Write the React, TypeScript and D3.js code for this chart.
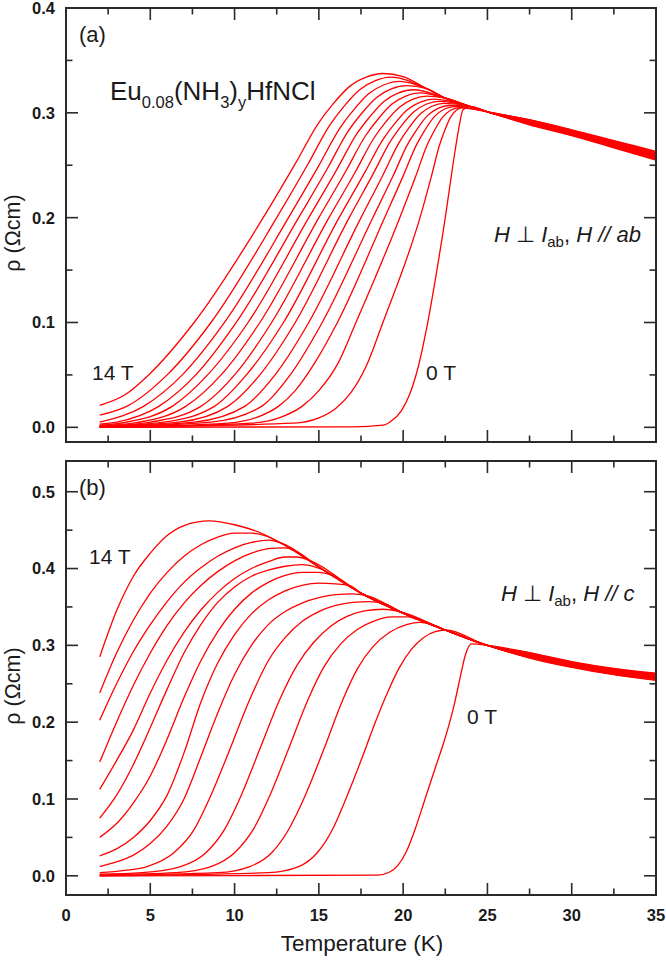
import React from 'react';
import * as d3 from 'd3';

// ---------- data ----------
const FIELDS = [0, 1, 2, 3, 4, 5, 6, 7, 8, 9, 10, 11, 12, 13, 14]; // Tesla
const X_TICKS = [0, 5, 10, 15, 20, 25, 30, 35];
const Y_TICKS_A = [0, 0.1, 0.2, 0.3, 0.4];
const Y_TICKS_B = [0, 0.1, 0.2, 0.3, 0.4, 0.5];
const TAIL_T = [27.5, 30, 32.5, 35];

// Panel (a): H // ab — low-temperature part of each curve [T (K), rho (Ohm cm)], index = field (T)
const A_RISE: number[][][] = [
  [[2, 0], [17, 0.0005], [18.8, 0.002], [19.3, 0.006], [19.9, 0.016], [20.4, 0.032], [20.9, 0.058], [21.4, 0.095], [21.95, 0.145], [22.5, 0.2], [22.95, 0.25], [23.3, 0.285], [23.55, 0.303], [24.0, 0.306]],
  [[2, 0], [13.5, 0.004], [15.0, 0.009], [16.0, 0.018], [16.9, 0.033], [17.8, 0.058], [18.8, 0.1], [21.0, 0.2], [21.68, 0.2397], [22.15, 0.2688], [22.45, 0.2824], [22.8, 0.2954], [23.15, 0.3024], [23.5, 0.305]],
  [[2, 0], [11.0, 0.004], [12.8, 0.01], [14.0, 0.02], [15.0, 0.035], [16.1, 0.06], [17.2, 0.1], [19.8, 0.2], [20.75, 0.2397], [21.41, 0.2688], [21.83, 0.2824], [22.32, 0.2954], [22.81, 0.3024], [23.3, 0.305]],
  [[2, 0], [9.6, 0.004], [11.4, 0.01], [12.6, 0.02], [13.6, 0.035], [14.7, 0.06], [16.1, 0.1], [18.9, 0.2], [20.01, 0.2401], [20.79, 0.2694], [21.28, 0.2832], [21.85, 0.2964], [22.43, 0.3034], [23.0, 0.306]],
  [[2, 0.0005], [8.6, 0.005], [11.6, 0.02], [13.3, 0.05], [15.2, 0.1], [18.2, 0.2], [19.42, 0.2404], [20.27, 0.2701], [20.81, 0.284], [21.44, 0.2973], [22.07, 0.3043], [22.7, 0.307]],
  [[2, 0.0005], [7.6, 0.005], [10.6, 0.02], [12.4, 0.05], [14.4, 0.1], [17.5, 0.2], [18.82, 0.2412], [19.75, 0.2714], [20.34, 0.2856], [21.03, 0.2991], [21.71, 0.3063], [22.4, 0.309]],
  [[2, 0.001], [6.7, 0.005], [9.6, 0.02], [11.5, 0.05], [13.6, 0.1], [16.8, 0.2], [18.23, 0.242], [19.24, 0.2727], [19.87, 0.2871], [20.62, 0.3009], [21.36, 0.3082], [22.1, 0.311]],
  [[2, 0.001], [5.8, 0.005], [8.8, 0.02], [10.7, 0.05], [12.9, 0.1], [16.2, 0.2], [17.71, 0.2427], [18.78, 0.274], [19.45, 0.2887], [20.23, 0.3027], [21.02, 0.3102], [21.8, 0.313]],
  [[2, 0.001], [5.0, 0.005], [8.0, 0.02], [10.0, 0.05], [12.2, 0.1], [15.6, 0.2], [17.17, 0.2438], [18.27, 0.276], [18.96, 0.2911], [19.78, 0.3054], [20.59, 0.3131], [21.4, 0.316]],
  [[2, 0.0015], [4.0, 0.004], [7.1, 0.02], [9.2, 0.05], [11.5, 0.1], [15.0, 0.2], [16.62, 0.245], [17.76, 0.2779], [18.48, 0.2934], [19.32, 0.3082], [20.16, 0.316], [21.0, 0.319]],
  [[2, 0.002], [3.6, 0.005], [6.3, 0.02], [8.4, 0.05], [10.8, 0.1], [14.4, 0.2], [16.07, 0.2461], [17.25, 0.2799], [18.0, 0.2958], [18.86, 0.3109], [19.73, 0.319], [20.6, 0.322]],
  [[2, 0.003], [3.0, 0.005], [5.5, 0.02], [7.7, 0.05], [10.1, 0.1], [13.8, 0.2], [15.53, 0.2476], [16.74, 0.2825], [17.51, 0.2989], [18.41, 0.3145], [19.3, 0.3229], [20.2, 0.326]],
  [[2, 0.005], [4.6, 0.02], [6.9, 0.05], [9.4, 0.1], [13.2, 0.2], [14.98, 0.2491], [16.24, 0.2852], [17.03, 0.3021], [17.95, 0.3182], [18.88, 0.3268], [19.8, 0.33]],
  [[2, 0.0117], [3.6, 0.02], [6.0, 0.05], [8.6, 0.1], [12.5, 0.2], [14.34, 0.2507], [15.63, 0.2878], [16.44, 0.3052], [17.4, 0.3218], [18.35, 0.3307], [19.3, 0.334]],
  [[2, 0.021], [3.5, 0.031], [4.9, 0.05], [7.6, 0.1], [11.7, 0.2], [13.62, 0.252], [14.97, 0.29], [15.82, 0.308], [16.81, 0.325], [17.81, 0.334], [18.8, 0.3375]],
];
// common envelope the curves merge into above their maximum
const A_ENV = [[20, 0.3345], [21.4, 0.323], [22.5, 0.314], [24, 0.306], [25, 0.301]];
// normal-state tail at TAIL_T, per field
const A_TAIL = [
  [0.2935, 0.2838, 0.2735, 0.2632],
  [0.2932, 0.2835, 0.2731, 0.2627],
  [0.2928, 0.2831, 0.2726, 0.2621],
  [0.2925, 0.2827, 0.2721, 0.2615],
  [0.2921, 0.2823, 0.2716, 0.2609],
  [0.2918, 0.2819, 0.2711, 0.2603],
  [0.2914, 0.2815, 0.2706, 0.2597],
  [0.2911, 0.2811, 0.2701, 0.2591],
  [0.2907, 0.2807, 0.2696, 0.2585],
  [0.2904, 0.2803, 0.2691, 0.2579],
  [0.29, 0.2799, 0.2686, 0.2573],
  [0.2897, 0.2795, 0.2681, 0.2567],
  [0.2893, 0.2791, 0.2676, 0.2561],
  [0.289, 0.2787, 0.2671, 0.2555],
  [0.2886, 0.2783, 0.2666, 0.2549],
];

// Panel (b): H // c
const B_RISE: number[][][] = [
  [[2, 0], [18.5, 0.001], [19.2, 0.005], [19.7, 0.014], [20.2, 0.032], [20.7, 0.06], [21.3, 0.1], [21.9, 0.14], [22.5, 0.18], [23.0, 0.22], [23.4, 0.26], [23.7, 0.288], [24.05, 0.302]],
  [[2, 0], [12, 0.004], [13.8, 0.012], [14.9, 0.03], [15.8, 0.06], [16.6, 0.1], [17.5, 0.15], [18.35, 0.2], [19.1, 0.24], [19.8, 0.272], [20.5, 0.295], [21.2, 0.31], [21.9, 0.318], [22.5, 0.32]],
  [[2, 0.0005], [9, 0.004], [10.9, 0.012], [12.2, 0.03], [13.2, 0.06], [14.1, 0.1], [15.3, 0.165], [16.41, 0.2286], [17.3, 0.27], [18.2, 0.298], [19.2, 0.317], [20.2, 0.327], [21, 0.33], [21.6, 0.328]],
  [[2, 0.001], [6.5, 0.004], [8.6, 0.012], [10, 0.03], [11.1, 0.06], [12, 0.1], [13.2, 0.165], [14.34, 0.2286], [15.3, 0.272], [16.3, 0.302], [17.3, 0.321], [18.3, 0.332], [19.3, 0.337], [20.3, 0.337], [20.8, 0.334]],
  [[2, 0.002], [4.5, 0.004], [6.8, 0.012], [8.3, 0.03], [9.4, 0.06], [10.3, 0.1], [11.5, 0.165], [12.66, 0.2286], [13.7, 0.274], [14.7, 0.304], [15.7, 0.325], [16.7, 0.338], [17.7, 0.345], [18.8, 0.347], [19.8, 0.344]],
  [[2, 0.004], [3.5, 0.007], [4.8, 0.012], [6.4, 0.03], [7.6, 0.06], [8.5, 0.1], [9.6, 0.158], [10.88, 0.2286], [12, 0.28], [13, 0.31], [14, 0.331], [15, 0.344], [16, 0.352], [17, 0.356], [18, 0.357], [18.8, 0.355]],
  [[2, 0.012], [3, 0.018], [4, 0.027], [5, 0.042], [6, 0.065], [7, 0.1], [8, 0.155], [9, 0.212], [10, 0.262], [11, 0.3], [12, 0.327], [13, 0.344], [14, 0.355], [15, 0.362], [16, 0.366], [17, 0.367], [17.8, 0.365]],
  [[2, 0.026], [3, 0.035], [4, 0.05], [5, 0.072], [6, 0.105], [7, 0.16], [8, 0.226], [9, 0.277], [10, 0.314], [11, 0.341], [12, 0.359], [13, 0.371], [14, 0.378], [15, 0.381], [16, 0.38], [16.8, 0.378]],
  [[2, 0.05], [3, 0.068], [4, 0.095], [5, 0.13], [6, 0.178], [7, 0.232], [8, 0.28], [9, 0.318], [10, 0.347], [11, 0.368], [12, 0.382], [13, 0.391], [14, 0.395], [15, 0.395], [15.8, 0.391]],
  [[2, 0.075], [3, 0.105], [4, 0.145], [5, 0.193], [6, 0.243], [7, 0.29], [8, 0.327], [9, 0.356], [10, 0.376], [11, 0.39], [12, 0.398], [13, 0.403], [14, 0.405], [14.8, 0.402]],
  [[2, 0.1126], [3, 0.15], [4, 0.19], [5, 0.238], [6, 0.281], [7, 0.317], [8, 0.346], [9, 0.369], [10, 0.387], [11, 0.4], [12, 0.409], [13, 0.415], [13.7, 0.415], [14.4, 0.411]],
  [[2, 0.148], [3, 0.2], [4, 0.248], [5, 0.29], [6, 0.326], [7, 0.355], [8, 0.378], [9, 0.396], [10, 0.41], [11, 0.42], [12, 0.426], [13, 0.427], [13.6, 0.423]],
  [[2, 0.2026], [3, 0.25], [4, 0.292], [5, 0.327], [6, 0.357], [7, 0.382], [8, 0.401], [9, 0.416], [10, 0.427], [11, 0.434], [12, 0.437], [12.8, 0.433]],
  [[2, 0.238], [3, 0.29], [4, 0.333], [5, 0.368], [6, 0.395], [7, 0.416], [8, 0.431], [9, 0.441], [10, 0.446], [11, 0.446], [11.8, 0.443]],
  [[2, 0.285], [3, 0.345], [4, 0.39], [5, 0.42], [6, 0.443], [7, 0.456], [8.5, 0.462]],
];
const B_ENV = [[8.5, 0.462], [10, 0.457], [11.7, 0.445], [13, 0.43], [15, 0.402], [17.5, 0.368], [20, 0.342], [22.5, 0.32], [25, 0.3]];
const B_TAIL = [
  [0.2905, 0.2788, 0.27, 0.2638],
  [0.2902, 0.2783, 0.2695, 0.2632],
  [0.2896, 0.2779, 0.2689, 0.2625],
  [0.289, 0.2772, 0.2683, 0.2618],
  [0.2886, 0.2768, 0.2678, 0.2612],
  [0.288, 0.2762, 0.2671, 0.2605],
  [0.2876, 0.2757, 0.2666, 0.2598],
  [0.287, 0.2751, 0.266, 0.2592],
  [0.2866, 0.2746, 0.2654, 0.2585],
  [0.286, 0.274, 0.2648, 0.2578],
  [0.2855, 0.2735, 0.2642, 0.2572],
  [0.285, 0.273, 0.2636, 0.2565],
  [0.2845, 0.2724, 0.263, 0.2558],
  [0.284, 0.2719, 0.2624, 0.2551],
  [0.2835, 0.2713, 0.2618, 0.2544],
];

// ---------- helpers ----------
function buildSeries(rise: number[][], env: number[][], tail: number[], gap: number) {
  const last = rise[rise.length - 1][0];
  return [
    ...rise,
    ...env.filter((p) => p[0] > last + gap),
    ...TAIL_T.map((t, i) => [t, tail[i]]),
  ];
}

const FONT = 'Arial, "Liberation Sans", Helvetica, sans-serif';
const AXIS = '#2a2a2a';
const TXT = '#1a1a1a';
const RED = '#ff0000';

const x = d3.scaleLinear().domain([0, 35]).range([66, 656]);
const yA = d3.scaleLinear().domain([-0.014, 0.4]).range([442, 8]);
const yB = d3.scaleLinear().domain([-0.025, 0.54]).range([895, 461]);

function Frame({ y, yTicks, xLabels }: { y: d3.ScaleLinear<number, number>; yTicks: number[]; xLabels: boolean }) {
  const [x0, x1] = x.range();
  const [yb, yt] = y.range();
  const xMinor = X_TICKS.slice(0, -1).map((t, i) => (t + X_TICKS[i + 1]) / 2);
  const yStep = yTicks[1] - yTicks[0];
  const yMinor = yTicks.map((t) => t + yStep / 2).filter((t) => y(t) > yt + 1);
  const yMajor = yTicks.filter((t) => y(t) >= yt - 0.5);
  const MJ = 12, MN = 6.5;
  return (
    <g>
      {X_TICKS.map((t) => (
        <g key={'xm' + t}>
          <line x1={x(t)} x2={x(t)} y1={yb} y2={yb - MJ} stroke={AXIS} strokeWidth={1.6} />
          <line x1={x(t)} x2={x(t)} y1={yt} y2={yt + MJ} stroke={AXIS} strokeWidth={1.6} />
        </g>
      ))}
      {xMinor.map((t) => (
        <g key={'xn' + t}>
          <line x1={x(t)} x2={x(t)} y1={yb} y2={yb - MN} stroke={AXIS} strokeWidth={1.6} />
          <line x1={x(t)} x2={x(t)} y1={yt} y2={yt + MN} stroke={AXIS} strokeWidth={1.6} />
        </g>
      ))}
      {yMajor.map((t) => (
        <g key={'ym' + t}>
          <line x1={x0} x2={x0 + MJ} y1={y(t)} y2={y(t)} stroke={AXIS} strokeWidth={1.6} />
          <line x1={x1} x2={x1 - MJ} y1={y(t)} y2={y(t)} stroke={AXIS} strokeWidth={1.6} />
          <text x={55} y={y(t)} dy="0.36em" textAnchor="end" fontFamily={FONT} fontWeight="bold" fontSize={16.5} fill={TXT}>
            {t.toFixed(1)}
          </text>
        </g>
      ))}
      {yMinor.map((t) => (
        <g key={'yn' + t}>
          <line x1={x0} x2={x0 + MN} y1={y(t)} y2={y(t)} stroke={AXIS} strokeWidth={1.6} />
          <line x1={x1} x2={x1 - MN} y1={y(t)} y2={y(t)} stroke={AXIS} strokeWidth={1.6} />
        </g>
      ))}
      {xLabels &&
        X_TICKS.map((t) => (
          <text key={'xl' + t} x={x(t)} y={yb + 26} textAnchor="middle" fontFamily={FONT} fontWeight="bold" fontSize={16.5} fill={TXT}>
            {t}
          </text>
        ))}
      <rect x={x0} y={yt} width={x1 - x0} height={yb - yt} fill="none" stroke={AXIS} strokeWidth={2} />
    </g>
  );
}

function Curves({ y, rise, env, tail, gap }: { y: d3.ScaleLinear<number, number>; rise: number[][][]; env: number[][]; tail: number[][]; gap: number }) {
  const line = d3
    .line<number[]>()
    .x((d) => x(d[0]))
    .y((d) => y(d[1]))
    .curve(d3.curveMonotoneX);
  return (
    <g>
      {FIELDS.map((f) => (
        <path key={f} d={line(buildSeries(rise[f], env, tail[f], gap)) || ''} fill="none" stroke={RED} strokeWidth={1.3} />
      ))}
    </g>
  );
}

function FieldLabel({ xp, yp, last }: { xp: number; yp: number; last: string }) {
  return (
    <text x={xp} y={yp} fontFamily={FONT} fontSize={22} fill={TXT}>
      <tspan fontStyle="italic">H</tspan>
      <tspan> ⊥ </tspan>
      <tspan fontStyle="italic">I</tspan>
      <tspan fontSize={15} dy={5}>ab</tspan>
      <tspan dy={-5}>, </tspan>
      <tspan fontStyle="italic">H // {last}</tspan>
    </text>
  );
}

export default function App() {
  return (
    <svg width={666} height={960} style={{ position: 'absolute', left: 0, top: 0, background: '#fff' }}>
      <rect x={0} y={0} width={666} height={960} fill="#fff" />
      {/* panel (a) */}
      <Curves y={yA} rise={A_RISE} env={A_ENV} tail={A_TAIL} gap={0.9} />
      <Frame y={yA} yTicks={Y_TICKS_A} xLabels={false} />
      <text x={79} y={42} fontFamily={FONT} fontSize={22} fill={TXT}>(a)</text>
      <text x={110} y={100} fontFamily={FONT} fontSize={26} fill={TXT}>
        Eu<tspan fontSize={16.5} dy={8}>0.08</tspan>
        <tspan dy={-8}>(NH</tspan>
        <tspan fontSize={16.5} dy={8}>3</tspan>
        <tspan dy={-8}>)</tspan>
        <tspan fontSize={16.5} dy={8}>y</tspan>
        <tspan dy={-8}>HfNCl</tspan>
      </text>
      <FieldLabel xp={494} yp={242} last="ab" />
      <text x={92} y={380} fontFamily={FONT} fontSize={21} fill={TXT}>14 T</text>
      <text x={426} y={380} fontFamily={FONT} fontSize={21} fill={TXT}>0 T</text>
      <text transform="translate(20,233) rotate(-90)" textAnchor="middle" fontFamily={FONT} fontSize={21.5} fill={TXT}>ρ (Ωcm)</text>

      {/* panel (b) */}
      <Curves y={yB} rise={B_RISE} env={B_ENV} tail={B_TAIL} gap={0.6} />
      <Frame y={yB} yTicks={Y_TICKS_B} xLabels={true} />
      <text x={79} y={495} fontFamily={FONT} fontSize={22} fill={TXT}>(b)</text>
      <FieldLabel xp={501} yp={601} last="c" />
      <text x={89} y={564} fontFamily={FONT} fontSize={21} fill={TXT}>14 T</text>
      <text x={467} y={724} fontFamily={FONT} fontSize={21} fill={TXT}>0 T</text>
      <text transform="translate(20,686) rotate(-90)" textAnchor="middle" fontFamily={FONT} fontSize={21.5} fill={TXT}>ρ (Ωcm)</text>

      <text x={362} y={951} textAnchor="middle" fontFamily={FONT} fontSize={22.5} fill={TXT}>Temperature (K)</text>
    </svg>
  );
}
